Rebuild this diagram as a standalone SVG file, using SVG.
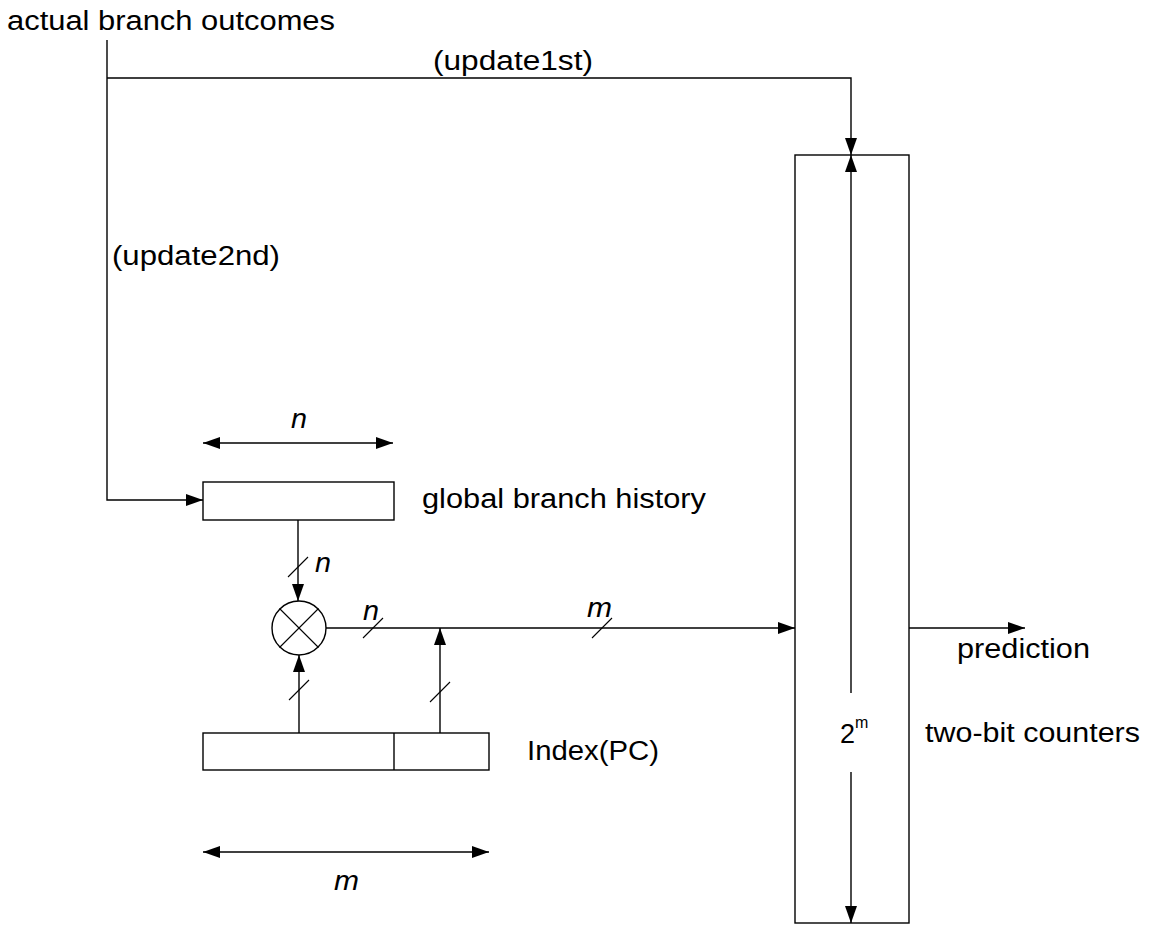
<svg xmlns="http://www.w3.org/2000/svg" width="1150" height="930" viewBox="0 0 1150 930">
<defs>
<marker id="ah" viewBox="0 0 17 12" refX="17" refY="6" markerWidth="17" markerHeight="12" markerUnits="userSpaceOnUse" orient="auto-start-reverse">
<path d="M0,0 L17,6 L0,12 z" fill="#000"/>
</marker>
</defs>
<style>
text{font-family:"Liberation Sans",Arial,sans-serif;font-size:27px;fill:#000}
.it{font-style:italic}
.ln{stroke:#000;stroke-width:1.4;fill:none}
.bx{stroke:#000;stroke-width:1.4;fill:#fff}
.sl{stroke:#000;stroke-width:1.1}
</style>
<rect width="1150" height="930" fill="#fff"/>
<g id="connectors">
<path class="ln" d="M107,40 V500 H203" marker-end="url(#ah)"/>
<path class="ln" d="M107,78 H851 V155" marker-end="url(#ah)"/>
<line class="ln" x1="298" y1="520" x2="298" y2="601" marker-end="url(#ah)"/>
<line class="sl" x1="288" y1="577" x2="308" y2="557"/>
<line class="ln" x1="299" y1="733" x2="299" y2="655" marker-end="url(#ah)"/>
<line class="sl" x1="289" y1="700" x2="309" y2="680"/>
<line class="ln" x1="440" y1="733" x2="440" y2="628" marker-end="url(#ah)"/>
<line class="sl" x1="430" y1="702" x2="450" y2="682"/>
<line class="ln" x1="326" y1="628" x2="795" y2="628" marker-end="url(#ah)"/>
<line class="sl" x1="363" y1="638" x2="383" y2="618"/>
<line class="sl" x1="592" y1="638" x2="612" y2="618"/>
<line class="ln" x1="909" y1="628" x2="1025" y2="628" marker-end="url(#ah)"/>
<line class="ln" x1="203" y1="443" x2="393" y2="443" marker-start="url(#ah)" marker-end="url(#ah)"/>
<line class="ln" x1="203" y1="852" x2="489" y2="852" marker-start="url(#ah)" marker-end="url(#ah)"/>
</g>
<g id="labels">
<text x="7" y="30" textLength="328" lengthAdjust="spacingAndGlyphs">actual branch outcomes</text>
<text x="433" y="70" textLength="160" lengthAdjust="spacingAndGlyphs">(update1st)</text>
<text x="112" y="265" textLength="168" lengthAdjust="spacingAndGlyphs">(update2nd)</text>
<text class="it" x="291" y="428" textLength="16" lengthAdjust="spacingAndGlyphs">n</text>
<text class="it" x="315" y="572" textLength="16" lengthAdjust="spacingAndGlyphs">n</text>
<text class="it" x="363" y="620" textLength="16" lengthAdjust="spacingAndGlyphs">n</text>
<text class="it" x="587" y="617" textLength="25" lengthAdjust="spacingAndGlyphs">m</text>
<text class="it" x="334" y="890" textLength="25" lengthAdjust="spacingAndGlyphs">m</text>
</g>
<g id="history">
<rect class="bx" x="203" y="482" width="191" height="38"/>
<text x="422" y="508" textLength="284" lengthAdjust="spacingAndGlyphs">global branch history</text>
</g>
<g id="xor">
<circle class="bx" cx="299" cy="628" r="27"/>
<line class="sl" x1="279.5" y1="608.5" x2="318.5" y2="647.5"/>
<line class="sl" x1="318.5" y1="608.5" x2="279.5" y2="647.5"/>
</g>
<g id="index">
<rect class="bx" x="203" y="733" width="286" height="37"/>
<line class="ln" x1="394" y1="733" x2="394" y2="770"/>
<text x="527" y="760" textLength="132" lengthAdjust="spacingAndGlyphs">Index(PC)</text>
</g>
<g id="counters">
<rect class="bx" x="795" y="155" width="114" height="768"/>
<line class="ln" x1="851" y1="693" x2="851" y2="155" marker-end="url(#ah)"/>
<line class="ln" x1="851" y1="772" x2="851" y2="923" marker-end="url(#ah)"/>
<text x="840" y="743">2<tspan font-size="16" dy="-15">m</tspan></text>
<text x="925" y="742" textLength="215" lengthAdjust="spacingAndGlyphs">two-bit counters</text>
</g>
<g id="prediction">
<text x="957" y="658" textLength="133" lengthAdjust="spacingAndGlyphs">prediction</text>
</g>
</svg>
